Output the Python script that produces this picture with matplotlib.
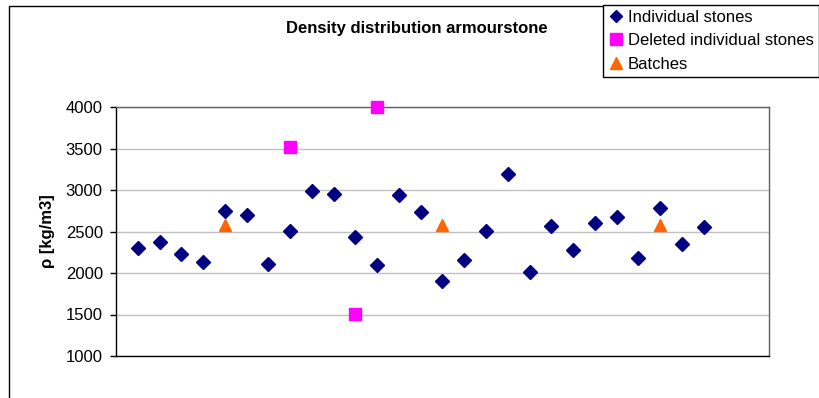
import matplotlib.pyplot as plt
from matplotlib.patches import Rectangle

plt.rcParams['font.family'] = ['Liberation Sans', 'DejaVu Sans']

# Density per stone [kg/m3]
stone_no = list(range(1, 28))
stone_rho = [2305, 2370, 2233, 2129, 2751, 2695, 2112, 2502, 2992, 2948,
             2434, 2097, 2940, 2735, 1900, 2157, 2510, 3193, 2016, 2570,
             2281, 2603, 2675, 2185, 2783, 2346, 2558]

# Stones removed from the set
deleted_no = [8, 11, 12]
deleted_rho = [3514, 1510, 4000]

# Batch averages
batch_no = [5, 15, 25]
batch_rho = [2580, 2580, 2580]

y_ticks = [1000, 1500, 2000, 2500, 3000, 3500, 4000]

fig = plt.figure(figsize=(8.2, 3.98), dpi=100)
ax = fig.add_axes([116 / 820, 1 - 356 / 398, 653 / 820, 249 / 398])

ax.plot(stone_no, stone_rho, linestyle='none', marker='D', ms=7,
        color='#000080', label='Individual stones', zorder=3)
ax.plot(deleted_no, deleted_rho, linestyle='none', marker='s', ms=9,
        color='#ff00ff', label='Deleted individual stones', zorder=3,
        clip_on=False)
ax.plot(batch_no, batch_rho, linestyle='none', marker='^', ms=9,
        color='#ff6600', label='Batches', zorder=3)

ax.set_xlim(0, 30)
ax.set_ylim(1000, 4000)
ax.set_yticks(y_ticks)
ax.set_xticks([])
ax.tick_params(axis='y', length=4, width=1, pad=5.5, labelsize=12, color='black')
ax.yaxis.grid(True, color='#c0c0c0', linewidth=1)
ax.set_axisbelow(True)

for side in ['left', 'bottom']:
    ax.spines[side].set_color('black')
    ax.spines[side].set_linewidth(1)
for side in ['top', 'right']:
    ax.spines[side].set_color('#606060')
    ax.spines[side].set_linewidth(1)

fig.text(417 / 820, 1 - 28 / 398, 'Density distribution armourstone',
         ha='center', va='center', fontsize=12, fontweight='bold')
fig.text(47.5 / 820, 1 - 231 / 398, 'ρ [kg/m3]', rotation=90,
         ha='center', va='center', fontsize=12, fontweight='bold')

# outer chart frame
frame_left = 9.5 / 820
frame_top = 1 - 5.5 / 398
fig.add_artist(Rectangle((frame_left, -0.2), 1.2, frame_top + 0.2,
                         transform=fig.transFigure, fill=False,
                         edgecolor='black', linewidth=1))

leg = fig.legend(loc='upper left', bbox_to_anchor=(603.5 / 820, 1 - 5 / 398),
                 fontsize=12, frameon=True, fancybox=False, shadow=False,
                 handlelength=0.9, handletextpad=0.25, borderpad=0.3,
                 labelspacing=0.5, borderaxespad=0, markerscale=0.9,
                 framealpha=1)
leg.get_frame().set_edgecolor('black')
leg.get_frame().set_linewidth(1)

fig.savefig('out.png', dpi=100, facecolor='white')
